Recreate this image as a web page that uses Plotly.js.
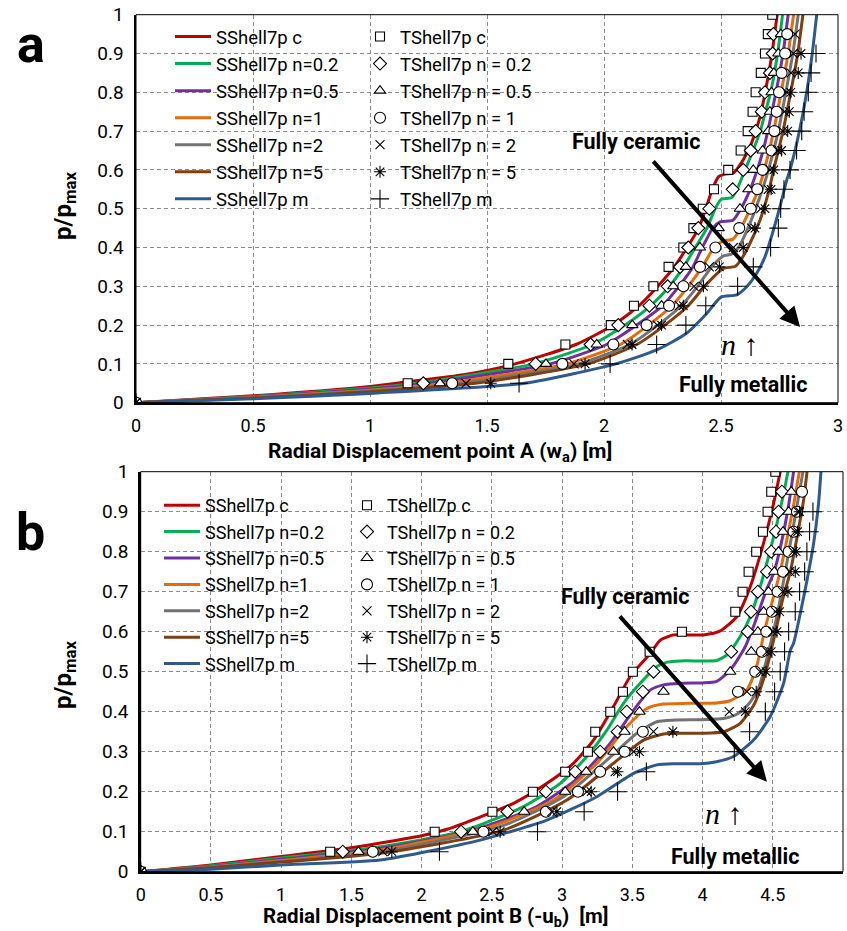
<!DOCTYPE html>
<html><head><meta charset="utf-8">
<script src="https://cdn.plot.ly/plotly-3.0.1.min.js"></script>
<style>html,body{margin:0;padding:0;background:#fff}#chart{width:847px;height:931px}</style>
</head><body><div id="chart"></div>
<script>
// ================= DATA =================
const namesS = ['SShell7p c','SShell7p n=0.2','SShell7p n=0.5','SShell7p n=1','SShell7p n=2','SShell7p n=5','SShell7p m'];
const namesT = ['TShell7p c','TShell7p n = 0.2','TShell7p n = 0.5','TShell7p n = 1','TShell7p n = 2','TShell7p n = 5','TShell7p m'];

// ---- Panel a : SShell7p curves (x = w_a [m], y = p/pmax) ----
const aS_c_x = [0,0.5,1.0,1.16,1.40,1.62,1.88,2.04,2.15,2.23,2.30,2.355,2.405,2.435,2.463,2.489,2.517,2.553,2.595,2.624,2.645,2.667,2.688,2.709,2.724,2.740];
const aS_c_y = [0,0.018,0.042,0.054,0.072,0.10,0.15,0.20,0.25,0.30,0.35,0.40,0.45,0.50,0.55,0.582,0.589,0.592,0.626,0.660,0.694,0.737,0.797,0.866,0.926,1.0];
const aS_02_x = [0,0.5,1.0,1.20,1.70,1.95,2.09,2.20,2.28,2.34,2.39,2.44,2.475,2.50,2.545,2.567,2.603,2.637,2.668,2.690,2.712,2.742,2.763];
const aS_02_y = [0,0.016,0.038,0.05,0.10,0.15,0.20,0.25,0.30,0.35,0.40,0.45,0.50,0.524,0.528,0.548,0.60,0.65,0.70,0.75,0.80,0.90,1.0];
const aS_05_x = [0,0.5,1.0,1.24,1.77,2.01,2.14,2.25,2.32,2.38,2.42,2.465,2.496,2.551,2.585,2.625,2.655,2.680,2.700,2.735,2.765,2.787];
const aS_05_y = [0,0.015,0.035,0.05,0.10,0.15,0.20,0.25,0.30,0.35,0.40,0.45,0.466,0.470,0.50,0.55,0.60,0.65,0.70,0.80,0.90,1.0];
const aS_1_x = [0,0.5,1.0,1.32,1.84,2.07,2.19,2.29,2.36,2.42,2.47,2.51,2.55,2.585,2.625,2.660,2.685,2.725,2.757,2.787,2.810];
const aS_1_y = [0,0.014,0.032,0.05,0.10,0.15,0.20,0.25,0.30,0.35,0.40,0.417,0.421,0.45,0.50,0.55,0.60,0.70,0.80,0.90,1.0];
const aS_2_x = [0,0.5,1.0,1.39,1.89,2.11,2.23,2.33,2.40,2.46,2.51,2.545,2.575,2.615,2.648,2.677,2.703,2.745,2.777,2.807,2.830];
const aS_2_y = [0,0.013,0.030,0.05,0.10,0.15,0.20,0.25,0.30,0.35,0.378,0.383,0.40,0.45,0.50,0.55,0.60,0.70,0.80,0.90,1.0];
const aS_5_x = [0,0.5,1.0,1.45,1.93,2.14,2.26,2.36,2.43,2.51,2.56,2.585,2.624,2.667,2.702,2.725,2.765,2.798,2.828,2.850];
const aS_5_y = [0,0.012,0.028,0.05,0.10,0.15,0.20,0.25,0.30,0.346,0.351,0.368,0.411,0.471,0.54,0.60,0.70,0.80,0.90,1.0];
const aS_m_x = [0,0.5,1.0,1.66,2.05,2.225,2.353,2.439,2.50,2.567,2.61,2.652,2.688,2.724,2.752,2.781,2.795,2.835,2.866,2.890,2.909];
const aS_m_y = [0,0.010,0.024,0.05,0.10,0.136,0.179,0.230,0.272,0.278,0.299,0.333,0.376,0.445,0.505,0.574,0.60,0.70,0.80,0.90,1.0];

// ---- Panel a : TShell7p points ----
const aT_c_y = [0,0.05,0.1,0.15,0.2,0.25,0.3,0.35,0.4,0.45,0.5,0.55,0.6,0.65,0.7,0.75,0.8,0.85,0.9,0.95,1.0];
const aT_c_x = [0,1.161,1.591,1.835,2.029,2.128,2.211,2.276,2.339,2.382,2.422,2.470,2.531,2.584,2.614,2.635,2.648,2.670,2.688,2.700,2.719];
const aT_02_y = [0,0.05,0.1,0.15,0.2,0.25,0.3,0.35,0.4,0.45,0.5,0.55,0.6,0.65,0.7,0.75,0.8,0.85,0.9,0.95];
const aT_02_x = [0,1.228,1.708,1.943,2.061,2.194,2.272,2.325,2.360,2.403,2.450,2.550,2.595,2.627,2.648,2.674,2.688,2.709,2.721,2.724];
const aT_05_y = [0,0.05,0.1,0.15,0.2,0.25,0.3,0.35,0.4,0.45,0.5,0.55,0.6,0.65,0.7,0.75,0.8,0.85,0.9,0.95];
const aT_05_x = [0,1.299,1.752,1.969,2.121,2.246,2.296,2.350,2.410,2.490,2.581,2.617,2.638,2.678,2.702,2.709,2.716,2.726,2.745,2.756];
const aT_1_y = [0,0.05,0.1,0.15,0.2,0.25,0.3,0.35,0.4,0.45,0.5,0.55,0.6,0.65,0.7,0.75,0.8,0.85,0.9,0.95];
const aT_1_x = [0,1.351,1.822,2.040,2.182,2.278,2.339,2.410,2.476,2.578,2.627,2.655,2.678,2.716,2.728,2.738,2.748,2.759,2.774,2.783];
const aT_2_y = [0,0.05,0.1,0.15,0.2,0.25,0.3,0.35,0.4,0.45,0.5,0.55,0.6,0.65,0.7,0.75,0.8,0.85,0.9,0.95];
const aT_2_x = [0,1.410,1.872,2.100,2.228,2.322,2.385,2.450,2.553,2.631,2.670,2.702,2.709,2.742,2.764,2.771,2.781,2.799,2.809,2.816];
const aT_5_y = [0,0.05,0.1,0.15,0.2,0.25,0.3,0.35,0.4,0.45,0.5,0.55,0.6,0.65,0.7,0.75,0.8,0.85,0.9];
const aT_5_x = [0,1.516,1.919,2.120,2.246,2.339,2.425,2.493,2.595,2.645,2.688,2.714,2.726,2.759,2.785,2.792,2.798,2.830,2.842];
const aT_m_y = [0,0.05,0.1,0.15,0.2,0.25,0.3,0.35,0.4,0.45,0.5,0.55,0.6,0.65,0.7,0.75,0.8,0.85,0.9];
const aT_m_x = [0,1.637,2.026,2.225,2.350,2.435,2.571,2.638,2.712,2.745,2.755,2.769,2.795,2.823,2.845,2.855,2.873,2.885,2.906];

// ---- Panel b : SShell7p curves (x = -u_b [m], y = p/pmax) ----
const bS_c_x = [0,0.5,1.0,1.5,2.0,2.18,2.654,2.892,3.081,3.224,3.366,3.485,3.629,3.699,3.793,3.90,4.007,4.126,4.245,4.340,4.434,4.506,4.553];
const bS_c_y = [0,0.017,0.038,0.060,0.090,0.106,0.171,0.221,0.271,0.329,0.413,0.488,0.546,0.579,0.592,0.592,0.592,0.602,0.638,0.713,0.821,0.921,1.0];
const bS_02_x = [0,0.5,1.0,1.705,2.274,2.725,2.987,3.177,3.319,3.437,3.556,3.675,3.75,3.841,4.0,4.10,4.174,4.268,4.340,4.411,4.470,4.530,4.573,4.608];
const bS_02_y = [0,0.015,0.034,0.0625,0.10,0.1625,0.221,0.288,0.354,0.421,0.471,0.513,0.524,0.527,0.527,0.528,0.542,0.588,0.638,0.713,0.788,0.871,0.938,1.0];
const bS_05_x = [0,0.5,1.0,1.705,2.369,2.820,3.129,3.343,3.509,3.627,3.722,3.85,4.0,4.10,4.197,4.30,4.37,4.45,4.51,4.56,4.61,4.648];
const bS_05_y = [0,0.013,0.031,0.058,0.104,0.163,0.238,0.321,0.404,0.454,0.467,0.471,0.472,0.476,0.504,0.56,0.62,0.70,0.75,0.82,0.91,1.0];
const bS_1_x = [0,0.5,1.0,1.705,2.488,2.939,3.248,3.461,3.604,3.72,3.90,4.10,4.20,4.316,4.39,4.44,4.50,4.553,4.60,4.65,4.689];
const bS_1_y = [0,0.012,0.028,0.054,0.1125,0.179,0.271,0.363,0.408,0.419,0.421,0.422,0.428,0.455,0.52,0.60,0.68,0.75,0.83,0.92,1.0];
const bS_2_x = [0,0.5,1.0,1.705,2.559,3.010,3.319,3.533,3.675,3.80,4.0,4.15,4.25,4.33,4.40,4.47,4.53,4.589,4.64,4.69,4.715];
const bS_2_y = [0,0.011,0.026,0.050,0.1125,0.1875,0.279,0.346,0.375,0.379,0.380,0.383,0.395,0.42,0.46,0.55,0.64,0.75,0.85,0.95,1.0];
const bS_5_x = [0,0.5,1.0,1.705,2.583,3.034,3.366,3.580,3.722,3.85,4.0,4.15,4.268,4.37,4.45,4.52,4.57,4.625,4.68,4.72,4.744];
const bS_5_y = [0,0.010,0.024,0.046,0.104,0.179,0.271,0.329,0.344,0.346,0.346,0.350,0.371,0.42,0.50,0.60,0.68,0.75,0.85,0.93,1.0];
const bS_m_x = [0,0.5,1.0,1.705,2.417,2.892,3.248,3.509,3.675,3.793,3.984,4.10,4.221,4.363,4.482,4.577,4.625,4.648,4.696,4.744,4.791,4.826,4.843];
const bS_m_y = [0,0.006,0.017,0.029,0.079,0.129,0.1875,0.246,0.267,0.270,0.270,0.275,0.288,0.329,0.388,0.471,0.554,0.571,0.646,0.729,0.821,0.921,1.0];

// ---- Panel b : TShell7p points ----
const bT_c_y = [0,0.05,0.1,0.15,0.2,0.25,0.3,0.35,0.4,0.45,0.5,0.55,0.6,0.65,0.7,0.75,0.8,0.85,0.9,0.95,1.0];
const bT_c_x = [0,1.349,2.093,2.504,2.792,3.022,3.184,3.236,3.343,3.433,3.504,3.623,3.853,4.233,4.285,4.328,4.382,4.430,4.463,4.489,4.518];
const bT_02_y = [0,0.05,0.1,0.15,0.2,0.25,0.3,0.35,0.4,0.45,0.5,0.55,0.6,0.65,0.7,0.75,0.8,0.85,0.9,0.95];
const bT_02_x = [0,1.439,2.281,2.611,2.885,3.093,3.271,3.395,3.461,3.575,3.651,4.204,4.321,4.345,4.394,4.459,4.489,4.523,4.541,4.565];
const bT_05_y = [0,0.05,0.1,0.15,0.2,0.25,0.3,0.35,0.4,0.45,0.5,0.55,0.6,0.65,0.7,0.75,0.8,0.85,0.9,0.95];
const bT_05_x = [0,1.55,2.365,2.730,3.022,3.172,3.366,3.445,3.551,3.722,4.197,4.347,4.394,4.435,4.470,4.511,4.541,4.573,4.613,4.632];
const bT_1_y = [0,0.05,0.1,0.15,0.2,0.25,0.3,0.35,0.45,0.5,0.55,0.6,0.65,0.7,0.75,0.8,0.85,0.9,0.95];
const bT_1_x = [0,1.652,2.440,2.885,3.113,3.271,3.445,3.575,4.252,4.375,4.423,4.454,4.494,4.534,4.573,4.613,4.648,4.672,4.708];
const bT_2_y = [0,0.05,0.1,0.15,0.2,0.25,0.3,0.35,0.4,0.45,0.5,0.55,0.6,0.65,0.7,0.75,0.8,0.85,0.9];
const bT_2_x = [0,1.724,2.507,2.927,3.177,3.378,3.509,3.651,4.190,4.316,4.410,4.460,4.500,4.520,4.570,4.620,4.645,4.660,4.680];
const bT_5_y = [0,0.05,0.1,0.15,0.2,0.25,0.3,0.35,0.4,0.45,0.5,0.55,0.6,0.65,0.7,0.75,0.8,0.85,0.9];
const bT_5_x = [0,1.788,2.559,2.963,3.207,3.395,3.551,3.789,4.304,4.382,4.452,4.489,4.530,4.549,4.608,4.660,4.667,4.677,4.691];
const bT_m_y = [0,0.05,0.1,0.15,0.2,0.25,0.3,0.35,0.4,0.45,0.5,0.55,0.6,0.65,0.7,0.75,0.8,0.85,0.9];
const bT_m_x = [0,2.127,2.825,3.157,3.395,3.600,4.226,4.335,4.447,4.513,4.553,4.584,4.613,4.660,4.691,4.727,4.743,4.762,4.786];

// ================= STYLE =================
const lineColors = ['#C00000','#00B050','#7030A0','#E46C0A','#737373','#7F3F10','#2E5A8E'];
const symbols = ['square','diamond','triangle-up','circle','x-thin-open','asterisk-open','cross-thin-open'];
const symFill = ['#ffffff','#ffffff','#ffffff','#ffffff','#000000','#000000','#000000'];
const symSizes = [9,10,10,11,9,10,13];
const FONT = 'Roboto, "Liberation Sans", Arial, sans-serif';

const aS = [[aS_c_x,aS_c_y],[aS_02_x,aS_02_y],[aS_05_x,aS_05_y],[aS_1_x,aS_1_y],[aS_2_x,aS_2_y],[aS_5_x,aS_5_y],[aS_m_x,aS_m_y]];
const aT = [[aT_c_x,aT_c_y],[aT_02_x,aT_02_y],[aT_05_x,aT_05_y],[aT_1_x,aT_1_y],[aT_2_x,aT_2_y],[aT_5_x,aT_5_y],[aT_m_x,aT_m_y]];
const bS = [[bS_c_x,bS_c_y],[bS_02_x,bS_02_y],[bS_05_x,bS_05_y],[bS_1_x,bS_1_y],[bS_2_x,bS_2_y],[bS_5_x,bS_5_y],[bS_m_x,bS_m_y]];
const bT = [[bT_c_x,bT_c_y],[bT_02_x,bT_02_y],[bT_05_x,bT_05_y],[bT_1_x,bT_1_y],[bT_2_x,bT_2_y],[bT_5_x,bT_5_y],[bT_m_x,bT_m_y]];

const traces = [];
function addPanel(S, T, xa, ya, legS, legT) {
  S.forEach((d, i) => traces.push({
    type:'scatter', mode:'lines', x:d[0], y:d[1], name:namesS[i], xaxis:xa, yaxis:ya, legend:legS,
    line:{color:lineColors[i], width:3, shape:'spline', smoothing:0.6}, hoverinfo:'skip'
  }));
  T.forEach((d, i) => traces.push({
    type:'scatter', mode:'markers', x:d[0], y:d[1], name:namesT[i], xaxis:xa, yaxis:ya, legend:legT,
    marker:{symbol:symbols[i], size:symSizes[i], color:symFill[i], line:{color:'#000000', width:1.1}}, hoverinfo:'skip'
  }));
}
addPanel(aS, aT, 'x', 'y', 'legend', 'legend2');
addPanel(bS, bT, 'x2', 'y2', 'legend3', 'legend4');

const W = 847, H = 931;
const PX = v => v / W;
const PY = v => 1 - v / H;

function xAxis(domain, range, anchor) {
  return {domain, range, dtick:0.5, anchor, showgrid:true, gridcolor:'#8c8c8c', gridwidth:1, griddash:'4px,3px',
    zeroline:false, showline:true, linecolor:'#000', linewidth:2.5, ticks:'', ticklabelstandoff:5,
    tickfont:{family:FONT, size:18, color:'#000'}, fixedrange:true};
}
function yAxis(domain, anchor) {
  return {domain, range:[0,1], dtick:0.1, anchor, showgrid:true, gridcolor:'#8c8c8c', gridwidth:1, griddash:'4px,3px',
    zeroline:false, showline:true, linecolor:'#000', linewidth:2.5, ticks:'', ticklabelstandoff:6,
    tickfont:{family:FONT, size:19, color:'#000'}, fixedrange:true};
}
function legendBox(x, y, size, itemwidth) {
  return {x:PX(x), y:PY(y), xanchor:'left', yanchor:'top', bgcolor:'rgba(255,255,255,0)', borderwidth:0,
    font:{family:FONT, size, color:'#000'}, itemwidth, tracegroupgap:0};
}
function note(text, x, y, size, extra) {
  return Object.assign({text, xref:'paper', yref:'paper', x:PX(x), y:PY(y), xanchor:'center', yanchor:'middle',
    showarrow:false, font:{family:FONT, size, color:'#000'}}, extra || {});
}

const layout = {
  width:W, height:H, margin:{l:0, r:0, t:0, b:0}, paper_bgcolor:'#fff', plot_bgcolor:'#fff',
  xaxis: xAxis([PX(136), PX(838)], [0,3], 'y'),
  yaxis: yAxis([PY(402.7), PY(14.7)], 'x'),
  xaxis2: xAxis([PX(140.7), PX(843)], [0,5], 'y2'),
  yaxis2: yAxis([PY(871.7), PY(471.7)], 'x2'),
  legend: legendBox(170, 18, 18.5, 36),
  legend2: legendBox(360, 18, 18.5, 30),
  legend3: legendBox(159, 487, 18, 36),
  legend4: legendBox(347, 487, 18, 30),
  shapes: [
    {type:'rect', xref:'paper', yref:'paper', x0:PX(166), x1:PX(548), y0:PY(213), y1:PY(21), fillcolor:'#fff', line:{width:0}, layer:'between'},
    {type:'rect', xref:'paper', yref:'paper', x0:PX(157), x1:PX(535), y0:PY(672), y1:PY(486), fillcolor:'#fff', line:{width:0}, layer:'between'},
    {type:'rect', xref:'x domain', yref:'y domain', x0:0, x1:1, y0:0, y1:1, line:{color:'#000', width:1}, layer:'above'},
    {type:'rect', xref:'x2 domain', yref:'y2 domain', x0:0, x1:1, y0:0, y1:1, line:{color:'#000', width:1}, layer:'above'}
  ],
  annotations: [
    note('<b>a</b>', 31, 45, 52),
    note('<b>b</b>', 31, 532, 52),
    note('<b>p/p<sub>max</sub></b>', 64, 206, 24, {textangle:-90}),
    note('<b>p/p<sub>max</sub></b>', 64, 675, 24, {textangle:-90}),
    note('<b>Radial Displacement point A (w<sub>a</sub>) [m]</b>', 440, 452, 21),
    note('<b>Radial Displacement point B (-u<sub>b</sub>)  [m]</b>', 435, 917, 20.5),
    // panel a notes
    {text:'<b>Fully ceramic</b>', xref:'x', yref:'y', x:2.14, y:0.673, showarrow:false, font:{family:FONT, size:21.5, color:'#000'}},
    {text:'', xref:'x', yref:'y', x:2.838, y:0.195, ax:2.205, ay:0.626, axref:'x', ayref:'y', showarrow:true, arrowhead:2, arrowsize:1, arrowwidth:4, arrowcolor:'#000'},
    {text:'<i>n</i> ↑', xref:'x', yref:'y', x:2.58, y:0.149, showarrow:false, font:{family:'"Liberation Serif", "DejaVu Serif", serif', size:30, color:'#000'}},
    {text:'<b>Fully metallic</b>', xref:'x', yref:'y', x:2.595, y:0.046, showarrow:false, font:{family:FONT, size:21.5, color:'#000'}},
    // panel b notes
    {text:'<b>Fully ceramic</b>', xref:'x2', yref:'y2', x:3.45, y:0.689, showarrow:false, font:{family:FONT, size:21.5, color:'#000'}},
    {text:'', xref:'x2', yref:'y2', x:4.459, y:0.225, ax:3.402, ay:0.642, axref:'x2', ayref:'y2', showarrow:true, arrowhead:2, arrowsize:1, arrowwidth:4, arrowcolor:'#000'},
    {text:'<i>n</i> ↑', xref:'x2', yref:'y2', x:4.15, y:0.146, showarrow:false, font:{family:'"Liberation Serif", "DejaVu Serif", serif', size:30, color:'#000'}},
    {text:'<b>Fully metallic</b>', xref:'x2', yref:'y2', x:4.233, y:0.0375, showarrow:false, font:{family:FONT, size:21.5, color:'#000'}}
  ],
  showlegend:true
};

Plotly.newPlot('chart', traces, layout, {staticPlot:true, displayModeBar:false});
</script>
</body></html>
